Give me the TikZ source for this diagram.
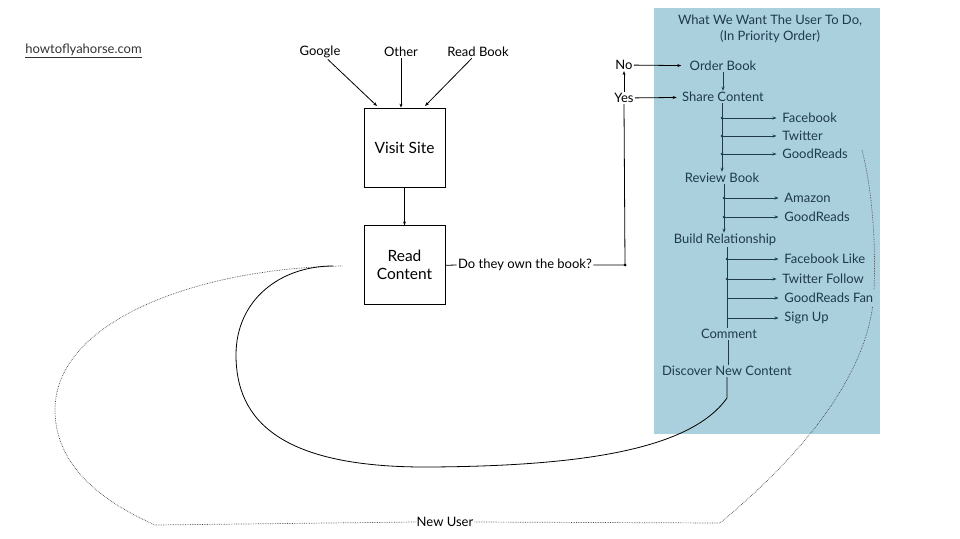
\documentclass[tikz,border=0pt]{standalone}
\usepackage{fontspec}
\setmainfont{Lato}
\usetikzlibrary{positioning, arrows.meta, calc}
\definecolor{goalbg}{HTML}{AAD0DE}
\definecolor{goalink}{HTML}{1E3A4C}

\begin{document}
\begin{tikzpicture}[x=1pt, y=-1pt, >={Stealth[length=4pt, width=3pt]}, line width=0.8pt]

  \tikzstyle{stage} = [rectangle, draw, align=center, minimum width=81pt, minimum height=79pt, font=\fontsize{15.5}{18}\selectfont];
  \tikzstyle{lbl} = [inner sep=1pt, font=\fontsize{13}{16}\selectfont];
  \tikzstyle{goal} = [lbl, text=goalink];
  \tikzstyle{outlet} = [goal, anchor=west, fill=goalbg, inner sep=3pt];
  \tikzstyle{hop} = [->, draw=goalink, line width=0.7pt];
  \tikzstyle{loop} = [densely dotted, draw=black!70, line width=0.7pt];

  \useasboundingbox (0,0) rectangle (960,538);
  \fill[goalbg] (654,8) rectangle (880,434);

  % where visitors come from
  \node[lbl, anchor=west, text=black!80] (site) at (24,51) {\underline{howtoflyahorse.com}};
  \node[lbl] (google) at (320,52) {Google};
  \node[lbl] (other) at (401,52) {Other};
  \node[lbl] (readbook) at (478,52) {Read Book};
  \node[stage] (visit) at (404.5,147.5) {Visit Site};
  \node[stage, below=38pt of visit] (read) {Read\\Content};
  \draw[->] (google) -- (377,106);
  \draw[->] (other) -- (other |- visit.north);
  \draw[->] (readbook) -- (425,106);
  \draw[->] (visit) -- (read);

  % the question
  \node[lbl] (own) at (525,265) {Do they own the book?};
  \node[lbl] (no) at (624,65) {No};
  \node[lbl] (yes) at (624,98) {Yes};
  \coordinate (fork) at (625,265);
  \draw (read.east) -- (own.west);
  \draw (own.east) -- (fork) -- (yes.south);
  \fill (fork) circle (1.5);
  \draw[->] (yes) -- (no);

  % the loops back
  \node[lbl] (newuser) at (445,522) {New User};
  \coordinate (grtail) at (862,150);
  \coordinate (bend) at (874,290);
  \coordinate (turnright) at (720,523);
  \coordinate (turnleft) at (155,525);
  \coordinate (readtail) at (343,266);
  \coordinate (discoverfoot) at (727,398);
  \coordinate (readfoot) at (333,266);
  \draw[loop] (grtail) .. controls (872,190) and (876,240) .. (bend)
    .. controls (872,360) and (820,440) .. (turnright) -- (newuser.east);
  \draw[loop] (newuser.west) -- (turnleft)
    .. controls (110,505) and (55,470) .. (55,410)
    .. controls (55,320) and (200,268) .. (readtail);

  % what we want the user to do
  \node[goal, align=center] (title) at (770,29) {What We Want The User To Do,\\(In Priority Order)};
  \node[goal] (order) at (723,66) {Order Book};
  \node[goal] (share) at (723,97) {Share Content};
  \node[goal] (review) at (722,178) {Review Book};
  \node[goal] (build) at (725,240) {Build Relationship};
  \node[goal] (comment) at (729,334) {Comment};
  \node[goal] (discover) at (727,371) {Discover New Content};

  \node[outlet] (fb) at (779,118) {Facebook};
  \node[outlet] (tw) at (779,136) {Twitter};
  \node[outlet] (gr) at (779,154) {GoodReads};
  \node[outlet] (amazon) at (781,198) {Amazon};
  \node[outlet] (gr2) at (781,217) {GoodReads};
  \node[outlet] (fblike) at (781,259) {Facebook Like};
  \node[outlet] (twfollow) at (779,279) {Twitter Follow};
  \node[outlet] (grfan) at (781,298) {GoodReads Fan};
  \node[outlet] (signup) at (781,318) {Sign Up};

  \draw[->, shorten >=7pt] (no) -- (order);
  \draw[->, shorten >=4pt] (yes) -- (share);
  \draw[hop] (order) -- (order |- share.north);
  \draw[hop] (share.south -| review) -- (review);
  \draw[hop] (review.south -| 724,0) -- (724,0 |- build.north);
  \draw[draw=goalink, line width=0.7pt] (build.south -| 727,0) -- (727,0 |- comment.north);
  \draw[draw=goalink, line width=0.7pt] (comment.south -| 728,0) -- (728,0 |- discover.north);

  \foreach \t in {fb, tw, gr}
    \draw[hop, shorten >=2.5pt] (review |- \t) -- (\t.west);
  \foreach \t in {amazon, gr2}
    \draw[hop, shorten >=2.5pt] (724,0 |- \t) -- (\t.west);
  \foreach \t in {fblike, twfollow, grfan, signup}
    \draw[hop, shorten >=2.5pt] (727,0 |- \t) -- (\t.west);
  \foreach \t/\x in {fb/722, tw/722, gr/722, amazon/724, gr2/724, fblike/727, twfollow/727}
    \fill[goalink] (\x,0 |- \t) circle (1.4);

  % back to reading
  \draw (discover.south -| discoverfoot) -- (discoverfoot)
    .. controls (690,450) and (580,466) .. (430,467)
    .. controls (280,468) and (236,420) .. (236,355)
    .. controls (236,300) and (280,266) .. (readfoot);
\end{tikzpicture}
\end{document}
